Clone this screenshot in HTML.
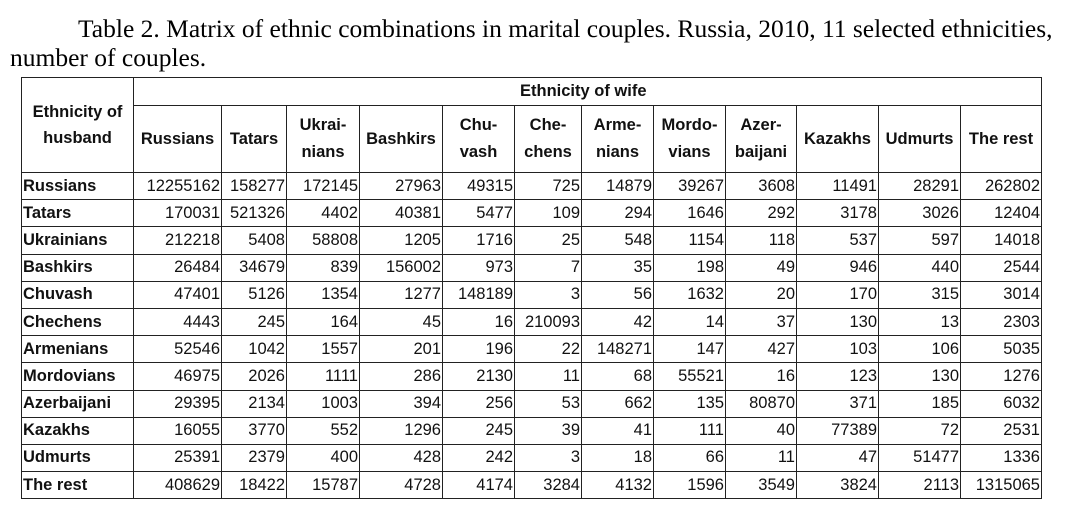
<!DOCTYPE html>
<html><head><meta charset="utf-8"><style>
body{margin:0;width:1080px;height:526px;background:#fff;position:relative;overflow:hidden}
.t{position:absolute;font-family:"Liberation Serif",serif;font-size:25.5px;color:#000;white-space:nowrap}
table{position:absolute;left:21px;top:77px;border-collapse:collapse;table-layout:fixed;font-family:"Liberation Sans",sans-serif;font-size:16.5px;color:#111}
td{border:1.5px solid #222;padding:0 1px;overflow:hidden;white-space:nowrap;text-align:right}
tr.d{height:27.2px}
tr.h td{font-weight:bold;text-align:center;line-height:27px}
td.n{font-weight:bold;text-align:left}
</style></head><body>
<div class="t" style="left:78px;top:14px">Table 2. Matrix of ethnic combinations in marital couples. Russia, 2010, 11 selected ethnicities,</div>
<div class="t" style="left:10px;top:43px">number of couples.</div>
<table>
<colgroup><col style="width:112px"><col style="width:88px"><col style="width:65px"><col style="width:73px"><col style="width:83px"><col style="width:72px"><col style="width:67px"><col style="width:72px"><col style="width:72px"><col style="width:71px"><col style="width:82px"><col style="width:82px"><col style="width:81px"></colgroup>
<tr class="h" style="height:27px"><td rowspan="2" style="line-height:26px">Ethnicity of<br>husband</td><td colspan="12" style="text-align:left;padding-left:386px">Ethnicity of wife</td></tr>
<tr class="h" style="height:67px"><td>Russians</td><td>Tatars</td><td>Ukrai-<br>nians</td><td>Bashkirs</td><td>Chu-<br>vash</td><td>Che-<br>chens</td><td>Arme-<br>nians</td><td>Mordo-<br>vians</td><td>Azer-<br>baijani</td><td>Kazakhs</td><td>Udmurts</td><td>The rest</td></tr>
<tr class="d"><td class="n">Russians</td><td>12255162</td><td>158277</td><td>172145</td><td>27963</td><td>49315</td><td>725</td><td>14879</td><td>39267</td><td>3608</td><td>11491</td><td>28291</td><td>262802</td></tr>
<tr class="d"><td class="n">Tatars</td><td>170031</td><td>521326</td><td>4402</td><td>40381</td><td>5477</td><td>109</td><td>294</td><td>1646</td><td>292</td><td>3178</td><td>3026</td><td>12404</td></tr>
<tr class="d"><td class="n">Ukrainians</td><td>212218</td><td>5408</td><td>58808</td><td>1205</td><td>1716</td><td>25</td><td>548</td><td>1154</td><td>118</td><td>537</td><td>597</td><td>14018</td></tr>
<tr class="d"><td class="n">Bashkirs</td><td>26484</td><td>34679</td><td>839</td><td>156002</td><td>973</td><td>7</td><td>35</td><td>198</td><td>49</td><td>946</td><td>440</td><td>2544</td></tr>
<tr class="d"><td class="n">Chuvash</td><td>47401</td><td>5126</td><td>1354</td><td>1277</td><td>148189</td><td>3</td><td>56</td><td>1632</td><td>20</td><td>170</td><td>315</td><td>3014</td></tr>
<tr class="d"><td class="n">Chechens</td><td>4443</td><td>245</td><td>164</td><td>45</td><td>16</td><td>210093</td><td>42</td><td>14</td><td>37</td><td>130</td><td>13</td><td>2303</td></tr>
<tr class="d"><td class="n">Armenians</td><td>52546</td><td>1042</td><td>1557</td><td>201</td><td>196</td><td>22</td><td>148271</td><td>147</td><td>427</td><td>103</td><td>106</td><td>5035</td></tr>
<tr class="d"><td class="n">Mordovians</td><td>46975</td><td>2026</td><td>1111</td><td>286</td><td>2130</td><td>11</td><td>68</td><td>55521</td><td>16</td><td>123</td><td>130</td><td>1276</td></tr>
<tr class="d"><td class="n">Azerbaijani</td><td>29395</td><td>2134</td><td>1003</td><td>394</td><td>256</td><td>53</td><td>662</td><td>135</td><td>80870</td><td>371</td><td>185</td><td>6032</td></tr>
<tr class="d"><td class="n">Kazakhs</td><td>16055</td><td>3770</td><td>552</td><td>1296</td><td>245</td><td>39</td><td>41</td><td>111</td><td>40</td><td>77389</td><td>72</td><td>2531</td></tr>
<tr class="d"><td class="n">Udmurts</td><td>25391</td><td>2379</td><td>400</td><td>428</td><td>242</td><td>3</td><td>18</td><td>66</td><td>11</td><td>47</td><td>51477</td><td>1336</td></tr>
<tr class="d"><td class="n">The rest</td><td>408629</td><td>18422</td><td>15787</td><td>4728</td><td>4174</td><td>3284</td><td>4132</td><td>1596</td><td>3549</td><td>3824</td><td>2113</td><td>1315065</td></tr>
</table>
</body></html>
